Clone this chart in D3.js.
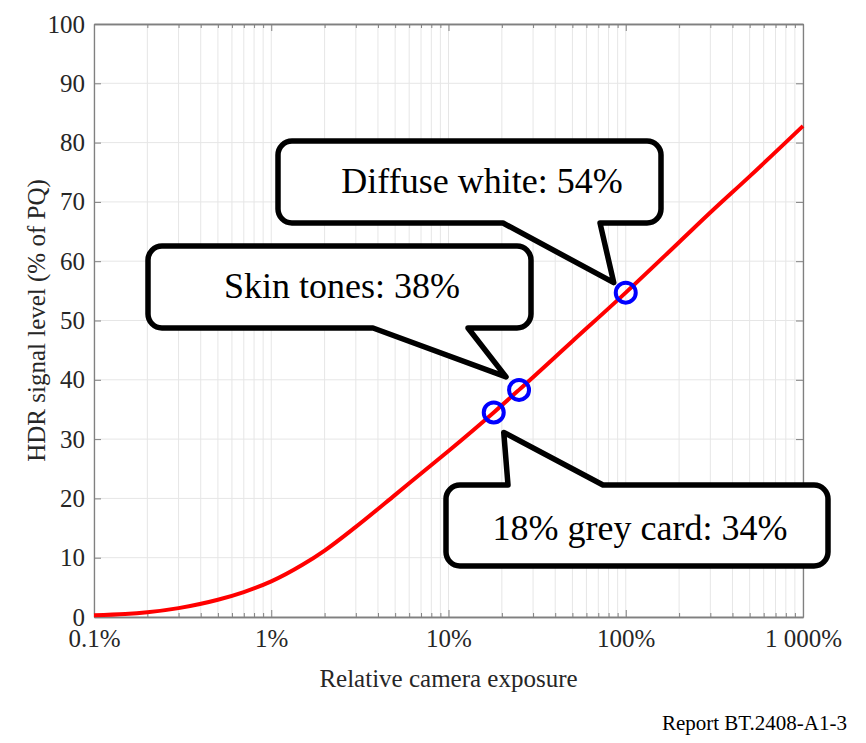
<!DOCTYPE html>
<html>
<head>
<meta charset="utf-8">
<script src="https://cdn.jsdelivr.net/npm/d3@7"></script>
<style>
  body { margin: 0; background: #fff; }
  svg { display: block; font-family: "Liberation Serif", "Times New Roman", serif; }
  .axis text { fill: #262626; font-size: 25px; font-family: "Liberation Serif", "Times New Roman", serif; }
  .axis path, .axis line { stroke: #808080; }
</style>
</head>
<body>
<script>
// exposure in %, signal in % of PQ
var exposure = [0.1, 0.15, 0.2, 0.3, 0.5, 0.7, 1, 1.5, 2, 3, 5, 7, 10, 18, 25, 50, 100, 200, 300, 500, 1000];
var signal   = [0.3, 0.5, 0.8, 1.5, 2.9, 4.2, 6.0, 8.8, 11.2, 15.2, 20.6, 24.2, 28.0, 34.5, 38.3, 46.5, 54.7, 63.2, 68.2, 74.3, 82.8];

var markExposure = [18, 25, 100];
var markSignal = [34.5, 38.3, 54.7];

var xTicks = [0.1, 1, 10, 100, 1000];
var xTickLabels = ["0.1%", "1%", "10%", "100%", "1 000%"];
var yTicks = [0, 10, 20, 30, 40, 50, 60, 70, 80, 90, 100];

var calloutText = ["Diffuse white: 54%", "Skin tones: 38%", "18% grey card: 34%"];

var W = 866, H = 743;
var margin = {top: 24, right: 63, bottom: 126, left: 94},
    width = W - margin.left - margin.right,
    height = H - margin.top - margin.bottom;

var x = d3.scaleLog().domain([0.1, 1000]).range([0, width]);
var y = d3.scaleLinear().domain([0, 100]).range([height, 0]);

var svg = d3.select("body").append("svg")
    .attr("width", W)
    .attr("height", H);

var g = svg.append("g")
    .attr("transform", "translate(" + margin.left + "," + margin.top + ")");

var minorX = x.ticks().filter(function(d) { return xTicks.indexOf(d) < 0; });

// grid
g.selectAll(".vgrid")
    .data(x.ticks())
  .enter().append("line")
    .attr("x1", function(d) { return x(d); })
    .attr("x2", function(d) { return x(d); })
    .attr("y1", 0)
    .attr("y2", height)
    .style("stroke", "#e6e6e6")
    .style("stroke-width", 1);

g.selectAll(".hgrid")
    .data(yTicks)
  .enter().append("line")
    .attr("x1", 0)
    .attr("x2", width)
    .attr("y1", function(d) { return y(d); })
    .attr("y2", function(d) { return y(d); })
    .style("stroke", "#e6e6e6")
    .style("stroke-width", 1);

// axes (ticks inward, box all round)
g.append("g").attr("class", "axis")
    .attr("transform", "translate(0," + height + ")")
    .call(d3.axisBottom(x).tickValues(xTicks).tickSizeInner(-7).tickSizeOuter(0).tickPadding(12)
      .tickFormat(function(d, i) { return xTickLabels[i]; }));
g.append("g").attr("class", "axis")
    .attr("transform", "translate(0," + height + ")")
    .call(d3.axisBottom(x).tickValues(minorX).tickSizeInner(-4).tickSizeOuter(0).tickFormat(""));
g.append("g").attr("class", "axis")
    .call(d3.axisTop(x).tickValues(xTicks).tickSizeInner(-7).tickSizeOuter(0).tickFormat(""));
g.append("g").attr("class", "axis")
    .call(d3.axisTop(x).tickValues(minorX).tickSizeInner(-4).tickSizeOuter(0).tickFormat(""));
g.append("g").attr("class", "axis")
    .call(d3.axisLeft(y).tickValues(yTicks).tickSizeInner(-7).tickSizeOuter(0).tickPadding(9));
g.append("g").attr("class", "axis")
    .attr("transform", "translate(" + width + ",0)")
    .call(d3.axisRight(y).tickValues(yTicks).tickSizeInner(-7).tickSizeOuter(0).tickFormat(""));

g.selectAll(".axis path").style("stroke-width", 1.3);

// axis titles
svg.append("text")
    .attr("x", margin.left + width / 2)
    .attr("y", 687)
    .style("text-anchor", "middle")
    .style("font-size", "25px")
    .style("fill", "#262626")
    .text("Relative camera exposure");

svg.append("text")
    .attr("transform", "translate(45," + (margin.top + height / 2) + ") rotate(-90)")
    .style("text-anchor", "middle")
    .style("font-size", "25px")
    .style("fill", "#262626")
    .text("HDR signal level (% of PQ)");

svg.append("text")
    .attr("x", 847)
    .attr("y", 730)
    .style("text-anchor", "end")
    .style("font-size", "21px")
    .style("fill", "#000")
    .text("Report BT.2408-A1-3");

// curve
var pts = exposure.map(function(d, i) { return [x(d), y(signal[i])]; });
g.append("path")
    .datum(pts)
    .attr("d", d3.line().curve(d3.curveMonotoneX))
    .style("fill", "none")
    .style("stroke", "#ff0000")
    .style("stroke-width", 4);

g.selectAll(".mark")
    .data(markExposure)
  .enter().append("circle")
    .attr("cx", function(d) { return x(d); })
    .attr("cy", function(d, i) { return y(markSignal[i]); })
    .attr("r", 10)
    .style("fill", "none")
    .style("stroke", "#0000ff")
    .style("stroke-width", 4);

// callouts: box in page px, tip anchored to the marker
function callout(b, side, b0, b1, tip) {
  var r = 14, x0 = b[0], y0 = b[1], x1 = b[2], y1 = b[3];
  var p = "M" + (x0 + r) + "," + y0;
  if (side == "top") p += "H" + b0 + "L" + tip[0] + "," + tip[1] + "L" + b1 + "," + y0;
  p += "H" + (x1 - r) + "A" + r + "," + r + " 0 0 1 " + x1 + "," + (y0 + r);
  p += "V" + (y1 - r) + "A" + r + "," + r + " 0 0 1 " + (x1 - r) + "," + y1;
  if (side == "bottom") p += "H" + b1 + "L" + tip[0] + "," + tip[1] + "L" + b0 + "," + y1;
  p += "H" + (x0 + r) + "A" + r + "," + r + " 0 0 1 " + x0 + "," + (y1 - r);
  p += "V" + (y0 + r) + "A" + r + "," + r + " 0 0 1 " + (x0 + r) + "," + y0 + "Z";
  return p;
}

var mx = markExposure.map(function(d) { return margin.left + x(d); });
var my = markSignal.map(function(d) { return margin.top + y(d); });

var callouts = [
  {box: [278, 141, 661, 223], side: "bottom", b0: 503, b1: 600, tip: [mx[2] - 12, my[2] - 10], tx: 482, ty: 193, text: calloutText[0]},
  {box: [148, 246, 531, 328], side: "bottom", b0: 373, b1: 468, tip: [mx[1] - 13, my[1] - 13], tx: 342, ty: 298, text: calloutText[1]},
  {box: [446, 485, 828, 566], side: "top", b0: 508, b1: 603, tip: [mx[0] + 10, my[0] + 20], tx: 640, ty: 540, text: calloutText[2]}
];

callouts.forEach(function(c) {
  svg.append("path")
      .attr("d", callout(c.box, c.side, c.b0, c.b1, c.tip))
      .style("fill", "#fff")
      .style("stroke", "#000")
      .style("stroke-width", 5.5)
      .style("stroke-linejoin", "round");
  svg.append("text")
      .attr("x", c.tx)
      .attr("y", c.ty)
      .style("text-anchor", "middle")
      .style("font-size", "36px")
      .style("fill", "#000")
      .text(c.text);
});
</script>
</body>
</html>
